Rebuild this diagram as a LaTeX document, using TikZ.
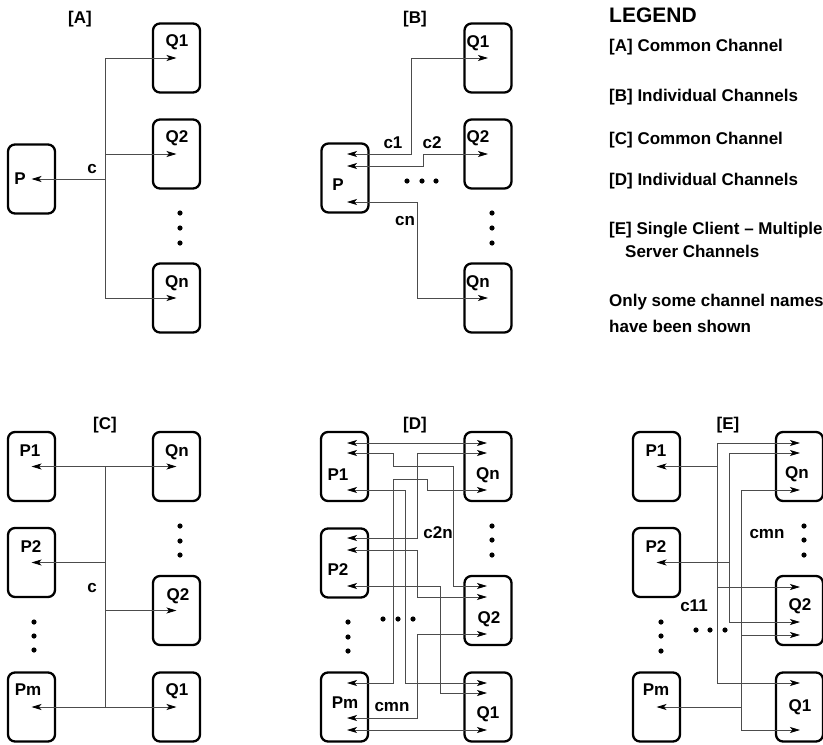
\documentclass[tikz,border=0pt]{standalone}
\usepackage{fontspec}
\setmainfont{Liberation Sans}
\usetikzlibrary{arrows.meta}

\tikzset{
  proc/.style={draw, line width=2.3pt, rounded corners=7pt,
    minimum width=47pt, minimum height=69pt, inner sep=0pt},
  chan/.style={line width=0.8pt, black!70},
  arr/.style={chan, -{Stealth[length=10pt,width=6pt,inset=2.5pt,color=black]}},
  arrs/.style={chan, {Stealth[length=10pt,width=6pt,inset=2.5pt,color=black]}-{Stealth[length=10pt,width=6pt,inset=2.5pt,color=black]}},
  lbl/.style={font=\fontsize{17}{17}\selectfont\bfseries, inner sep=0pt, anchor=base},
  legtxt/.style={lbl, anchor=base west},
}

\begin{document}
\begin{tikzpicture}[x=1pt, y=-1pt]
    \useasboundingbox (0,0) rectangle (823,745);

    % [A]
    \node[lbl] (a-tag) at (80,23) {[A]};
    \node[proc] (AP) at (31.5,179) {};
    \node[proc] (AQ1) at (176.5,58) {};
    \node[proc] (AQ2) at (176.5,154) {};
    \node[proc] (AQn) at (176.5,298) {};
    \node[lbl] (AP-t) at (20,184) {P};
    \node[lbl] (AQ1-t) at (177,46) {Q1};
    \node[lbl] (AQ2-t) at (177,142) {Q2};
    \node[lbl] (AQn-t) at (177,287) {Qn};
    \coordinate (a-j) at (105,179);
    \draw[arr] (a-j) -- (AP.center);
    \foreach \q in {AQ1,AQ2,AQn} {
        \draw[arr] (a-j) |- (\q.center);
    }
    \node[lbl] (a-c) at (92,173) {c};
    \foreach \y in {213,228,243} \fill (180,\y) circle[radius=2.6pt];

    % [B]
    \node[lbl] (b-tag) at (415,23) {[B]};
    \node[proc] (BP) at (345,178) {};
    \node[proc] (BQ1) at (488,58) {};
    \node[proc] (BQ2) at (488,154) {};
    \node[proc] (BQn) at (488,298) {};
    \node[lbl] (BP-t) at (338,190) {P};
    \node[lbl] (BQ1-t) at (478,47) {Q1};
    \node[lbl] (BQ2-t) at (478,142) {Q2};
    \node[lbl] (BQn-t) at (478,287) {Qn};
    \coordinate (b-p1) at (347,154);
    \coordinate (b-p2) at (347,166);
    \coordinate (b-pn) at (347,202);
    \draw[arrs] (b-p1) -- ++(64,0) |- (BQ1.center);
    \draw[arrs] (b-p2) -- ++(76,0) |- (BQ2.center);
    \draw[arrs] (b-pn) -- ++(70,0) |- (BQn.center);
    \node[lbl] (b-c1) at (393,148) {c1};
    \node[lbl] (b-c2) at (432,148) {c2};
    \node[lbl] (b-cn) at (405,225) {cn};
    \foreach \x in {407,422,436} \fill (\x,181) circle[radius=2.6pt];
    \foreach \y in {213,228,243} \fill (492,\y) circle[radius=2.6pt];

    % [C]
    \node[lbl] (c-tag) at (105,429) {[C]};
    \node[proc] (CP1) at (31.5,466.5) {};
    \node[proc] (CP2) at (31.5,562.5) {};
    \node[proc] (CPm) at (31.5,707) {};
    \node[proc] (CQn) at (176.5,466.5) {};
    \node[proc] (CQ2) at (176.5,610.5) {};
    \node[proc] (CQ1) at (176.5,707) {};
    \node[lbl] (CP1-t) at (30,456) {P1};
    \node[lbl] (CP2-t) at (31,552) {P2};
    \node[lbl] (CPm-t) at (28,695) {Pm};
    \node[lbl] (CQn-t) at (177,456) {Qn};
    \node[lbl] (CQ2-t) at (178,600) {Q2};
    \node[lbl] (CQ1-t) at (177,695) {Q1};
    \coordinate (c-top) at (105,466.5);
    \coordinate (c-bot) at (105,707);
    \draw[arrs] (CP1.center) -- (CQn.center);
    \draw[arrs] (CPm.center) -- (CQ1.center);
    \draw[chan] (c-top) -- (c-bot);
    \draw[arr] (c-top |- CP2.center) -- (CP2.center);
    \draw[arr] (c-top |- CQ2.center) -- (CQ2.center);
    \node[lbl] (c-c) at (92,592) {c};
    \foreach \y in {526,541,555} \fill (180,\y) circle[radius=2.6pt];
    \foreach \y in {622,636,650} \fill (34,\y) circle[radius=2.6pt];

    % [D]
    \node[lbl] (d-tag) at (415,429) {[D]};
    \node[proc] (DP1) at (344.5,466.5) {};
    \node[proc] (DP2) at (344.5,563) {};
    \node[proc] (DPm) at (344.5,707) {};
    \node[proc] (DQn) at (488,466.5) {};
    \node[proc] (DQ2) at (488,610.5) {};
    \node[proc] (DQ1) at (488,707) {};
    \node[lbl] (DP1-t) at (338,480) {P1};
    \node[lbl] (DP2-t) at (338,575) {P2};
    \node[lbl] (DPm-t) at (345,708) {Pm};
    \node[lbl] (DQn-t) at (488,479) {Qn};
    \node[lbl] (DQ2-t) at (489,623) {Q2};
    \node[lbl] (DQ1-t) at (488,718) {Q1};
    \foreach \n/\y in {p1a/443,p1b/453,p1c/490,p2a/538,p2b/550,p2c/586,pma/683,pmb/718,pmc/730}
        \coordinate (d-\n) at (347,\y);
    \foreach \n/\y in {qna/443,qnb/453,qnc/490,q2a/586,q2b/597,q2c/634,q1a/683,q1b/693,q1c/730}
        \coordinate (d-\n) at (487,\y);
    \draw[arrs] (d-p1a) -- (d-qna);
    \draw[arrs] (d-p1b) -- ++(46,0) |- ++(60,13) |- (d-q2a);
    \draw[arrs] (d-p1c) -- ++(58,0) |- (d-q1a);
    \draw[arrs] (d-p2a) -- ++(70,0) |- (d-qnb);
    \draw[arrs] (d-p2b) -- ++(70,0) |- (d-q2b);
    \draw[arrs] (d-p2c) -- ++(93,0) |- (d-q1b);
    \draw[arrs] (d-pma) -- ++(46,0) |- ++(34,-204) |- (d-qnc);
    \draw[arrs] (d-pmb) -- ++(70,0) |- (d-q2c);
    \draw[arrs] (d-pmc) -- (d-q1c);
    \node[lbl] (d-c2n) at (438,538) {c2n};
    \node[lbl] (d-cmn) at (392,711) {cmn};
    \foreach \x in {383,398,413} \fill (\x,619) circle[radius=2.6pt];
    \foreach \y in {622,637,651} \fill (348,\y) circle[radius=2.6pt];
    \foreach \y in {526,540,555} \fill (492,\y) circle[radius=2.6pt];

    % [E]
    \node[lbl] (e-tag) at (728,429) {[E]};
    \node[proc] (EP1) at (656.5,466.5) {};
    \node[proc] (EP2) at (656.5,562.5) {};
    \node[proc] (EPm) at (656.5,707) {};
    \node[proc] (EQn) at (799.5,466.5) {};
    \node[proc] (EQ2) at (799.5,610.5) {};
    \node[proc] (EQ1) at (799.5,707) {};
    \node[lbl] (EP1-t) at (656,456) {P1};
    \node[lbl] (EP2-t) at (656,552) {P2};
    \node[lbl] (EPm-t) at (656,695) {Pm};
    \node[lbl] (EQn-t) at (797,478) {Qn};
    \node[lbl] (EQ2-t) at (800,610) {Q2};
    \node[lbl] (EQ1-t) at (800,711) {Q1};
    \foreach \n/\y in {qna/443,qnb/453,qnc/490,q2a/587,q2b/622,q2c/635,q1a/683,q1c/730}
        \coordinate (e-\n) at (800,\y);
    \coordinate (e-j1) at (717,466.5);
    \coordinate (e-j2) at (729,562.5);
    \coordinate (e-j3) at (741,707);
    \draw[arr] (e-j1) -- (EP1.center);
    \draw[arr] (e-j2) -- (EP2.center);
    \draw[arr] (e-j3) -- (EPm.center);
    \foreach \q in {qna,q2a,q1a} \draw[arr] (e-j1) |- (e-\q);
    \foreach \q in {qnb,q2b} \draw[arr] (e-j2) |- (e-\q);
    \foreach \q in {qnc,q2c,q1c} \draw[arr] (e-j3) |- (e-\q);
    \node[lbl] (e-cmn) at (767,538) {cmn};
    \node[lbl] (e-c11) at (694,611) {c11};
    \foreach \x in {696,710,725} \fill (\x,630) circle[radius=2.6pt];
    \foreach \y in {622,636,651} \fill (661,\y) circle[radius=2.6pt];
    \foreach \y in {526,540,555} \fill (804,\y) circle[radius=2.6pt];

    % legend
    \node[legtxt, font=\fontsize{21}{21}\selectfont\bfseries] (leg) at (609,22) {LEGEND};
    \node[legtxt] (leg-a) at (609,51) {[A] Common Channel};
    \node[legtxt] (leg-b) at (609,101) {[B] Individual Channels};
    \node[legtxt] (leg-c) at (609,144) {[C] Common Channel};
    \node[legtxt] (leg-d) at (609,185) {[D] Individual Channels};
    \node[legtxt] (leg-e) at (609,234) {[E] Single Client -- Multiple};
    \node[legtxt] (leg-e2) at (625,257) {Server Channels};
    \node[legtxt] (leg-n1) at (609,306) {Only some channel names};
    \node[legtxt] (leg-n2) at (609,332) {have been shown};
\end{tikzpicture}
\end{document}
